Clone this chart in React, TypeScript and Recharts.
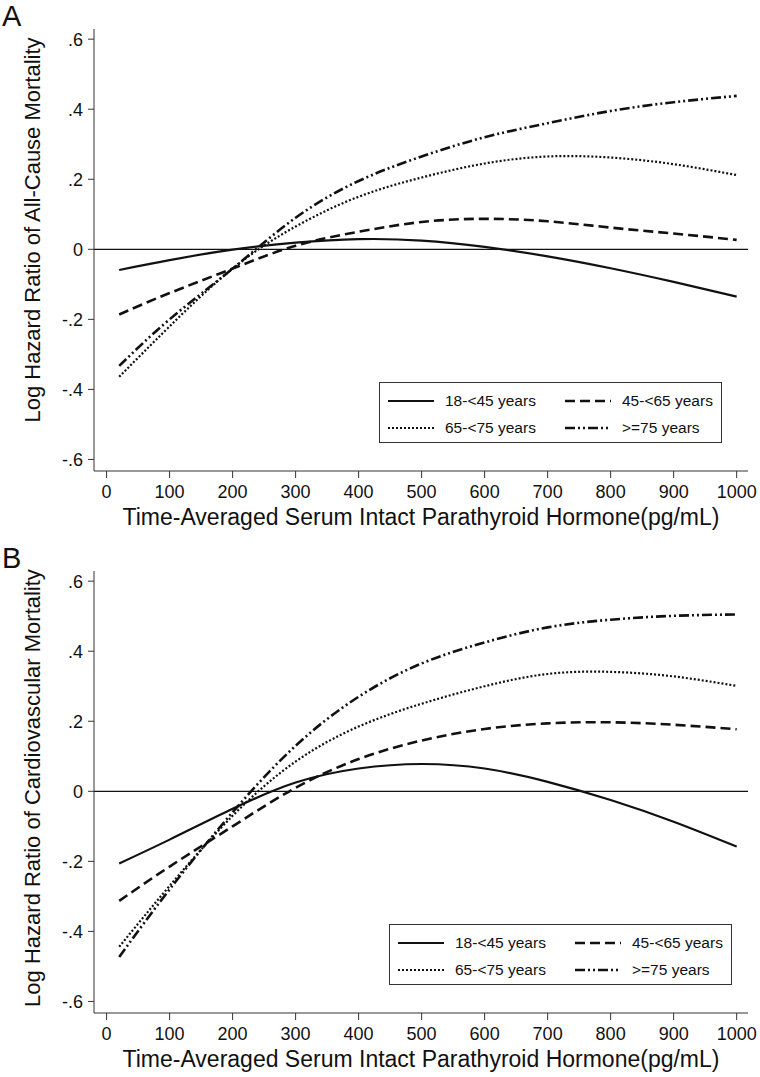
// Two stacked spline panels: log HR of mortality vs time-averaged iPTH, by age group.
// Stata-style look: boxed plot region, zero reference line, inset legend.

import { Legend, Line, LineChart, ReferenceLine, XAxis, YAxis } from "recharts";

const PTH = [20, 100, 200, 300, 400, 500, 600, 700, 800, 900, 1000];

// Panel A — all-cause mortality
const A_AGE_18_45 = [-0.059, -0.031, -0.001, 0.019, 0.029, 0.025, 0.007, -0.02, -0.054, -0.093, -0.135];
const A_AGE_45_65 = [-0.186, -0.125, -0.055, 0.01, 0.05, 0.078, 0.087, 0.08, 0.062, 0.045, 0.027];
const A_AGE_65_75 = [-0.364, -0.22, -0.055, 0.065, 0.15, 0.205, 0.245, 0.265, 0.262, 0.243, 0.212];
const A_AGE_75 = [-0.333, -0.2, -0.055, 0.09, 0.195, 0.265, 0.32, 0.36, 0.395, 0.42, 0.438];

// Panel B — cardiovascular mortality
const B_AGE_18_45 = [-0.206, -0.138, -0.05, 0.025, 0.065, 0.078, 0.065, 0.027, -0.025, -0.087, -0.158];
const B_AGE_45_65 = [-0.313, -0.215, -0.1, 0.01, 0.092, 0.145, 0.178, 0.194, 0.197, 0.19, 0.177];
const B_AGE_65_75 = [-0.444, -0.27, -0.07, 0.085, 0.185, 0.25, 0.3, 0.335, 0.341, 0.328, 0.301];
const B_AGE_75 = [-0.473, -0.28, -0.06, 0.13, 0.27, 0.365, 0.425, 0.468, 0.49, 0.501, 0.505];

const SERIES_NAMES = ["18-<45 years", "45-<65 years", "65-<75 years", ">=75 years"];
const X_TICKS = [0, 100, 200, 300, 400, 500, 600, 700, 800, 900, 1000];
const Y_TICKS = [-0.6, -0.4, -0.2, 0, 0.2, 0.4, 0.6];
const Y_TICK_LABELS = ["-.6", "-.4", "-.2", "0", ".2", ".4", ".6"];
const X_TITLE = "Time-Averaged Serum Intact Parathyroid Hormone(pg/mL)";

const FONT = "'Liberation Sans', Arial, Helvetica, sans-serif";
const INK = "#111";
const FRAME = "#333";
const X_DOMAIN: [number, number] = [-20, 1018];
const Y_DOMAIN: [number, number] = [-0.633, 0.629];

// line styles per age group: solid, dashed, dotted, dash-dot-dot
const STYLES = [
  { dash: undefined as string | undefined, width: 2.2 },
  { dash: "10 5", width: 2.6 },
  { dash: "2 2", width: 2.2 },
  { dash: "10 3 2 3 2 3", width: 2.6 },
];

const KEYS = ["g1", "g2", "g3", "g4"];

function buildRows(series: number[][]) {
  return PTH.map((x, i) => {
    const row: Record<string, number> = { pth: x };
    series.forEach((s, k) => {
      row[KEYS[k]] = s[i];
    });
    return row;
  });
}

function fmtY(v: number): string {
  const i = Y_TICKS.findIndex((t) => Math.abs(t - v) < 1e-6);
  return i >= 0 ? Y_TICK_LABELS[i] : String(v);
}

function Sample({ k }: { k: number }) {
  return (
    <svg width={46} height={8} style={{ display: "block" }}>
      <line
        x1={0}
        y1={4}
        x2={46}
        y2={4}
        stroke={INK}
        strokeWidth={STYLES[k].width}
        strokeDasharray={STYLES[k].dash}
      />
    </svg>
  );
}

function BoxLegend() {
  const cell = (k: number) => (
    <div style={{ display: "flex", alignItems: "center", height: 26 }}>
      <Sample k={k} />
      <span style={{ marginLeft: 11 }}>{SERIES_NAMES[k]}</span>
    </div>
  );
  return (
    <div
      style={{
        border: `1px solid ${FRAME}`,
        background: "#fff",
        boxSizing: "border-box",
        width: 343,
        height: 61,
        padding: "5px 0 0 8px",
        fontFamily: FONT,
        fontSize: 15.5,
        color: INK,
        display: "grid",
        gridTemplateColumns: "177px 160px",
      }}
    >
      {cell(0)}
      {cell(1)}
      {cell(2)}
      {cell(3)}
    </div>
  );
}

function Panel({
  letter,
  yTitle,
  yTitleMid,
  series,
  legendLeft,
  top,
}: {
  letter: string;
  yTitle: string;
  yTitleMid: number;
  series: number[][];
  legendLeft: number;
  top: number;
}) {
  const rows = buildRows(series);
  const tick = { fontSize: 18, fontFamily: FONT, fill: INK };
  return (
    <div style={{ position: "absolute", left: 0, top, width: 760, height: 542 }}>
      <LineChart
        width={760}
        height={542}
        data={rows}
        margin={{ top: 29, right: 12, bottom: 0, left: 0 }}
      >
        <XAxis
          dataKey="pth"
          type="number"
          domain={X_DOMAIN}
          ticks={X_TICKS}
          interval={0}
          height={71}
          tick={tick}
          tickSize={7}
          tickMargin={7}
          axisLine={{ stroke: FRAME }}
          tickLine={{ stroke: FRAME }}
        />
        <XAxis
          xAxisId="top"
          orientation="top"
          dataKey="pth"
          type="number"
          domain={X_DOMAIN}
          height={0}
          tick={false}
          tickLine={false}
          axisLine={{ stroke: FRAME }}
        />
        <YAxis
          yAxisId="left"
          type="number"
          domain={Y_DOMAIN}
          ticks={Y_TICKS}
          interval={0}
          width={94}
          tick={tick}
          tickFormatter={fmtY}
          tickSize={6}
          tickMargin={5}
          axisLine={{ stroke: FRAME }}
          tickLine={{ stroke: FRAME }}
        />
        <YAxis
          yAxisId="right"
          orientation="right"
          type="number"
          domain={Y_DOMAIN}
          width={0}
          tick={false}
          tickLine={false}
          axisLine={{ stroke: FRAME }}
        />
        <ReferenceLine yAxisId="left" y={0} stroke={INK} strokeWidth={1.3} />
        {KEYS.map((key, k) => (
          <Line
            key={key}
            yAxisId="left"
            type="natural"
            dataKey={key}
            name={SERIES_NAMES[k]}
            stroke={INK}
            strokeWidth={STYLES[k].width}
            strokeDasharray={STYLES[k].dash}
            dot={false}
            activeDot={false}
            isAnimationActive={false}
          />
        ))}
        <Legend
          layout="vertical"
          align="center"
          verticalAlign="middle"
          content={() => <BoxLegend />}
          wrapperStyle={{ left: legendLeft, top: 382, width: 343, height: 61 }}
        />
      </LineChart>
      <svg
        width={760}
        height={542}
        style={{ position: "absolute", left: 0, top: 0, pointerEvents: "none" }}
        fontFamily={FONT}
        fill={INK}
      >
        <text x={2} y={26} fontSize={29}>
          {letter}
        </text>
        <text
          x={32}
          y={yTitleMid}
          fontSize={22}
          textAnchor="middle"
          dominantBaseline="central"
          transform={`rotate(-90 32 ${yTitleMid})`}
        >
          {yTitle}
        </text>
        <text x={421} y={517} fontSize={23} textAnchor="middle" dominantBaseline="central">
          {X_TITLE}
        </text>
      </svg>
    </div>
  );
}

export default function App() {
  return (
    <div
      style={{
        position: "absolute",
        left: 0,
        top: 0,
        width: 760,
        height: 1077,
        background: "#fff",
      }}
    >
      <Panel
        letter="A"
        yTitle="Log Hazard Ratio of All-Cause Mortality"
        yTitleMid={230}
        series={[A_AGE_18_45, A_AGE_45_65, A_AGE_65_75, A_AGE_75]}
        legendLeft={379}
        top={0}
      />
      <Panel
        letter="B"
        yTitle="Log Hazard Ratio of Cardiovascular Mortality"
        yTitleMid={246}
        series={[B_AGE_18_45, B_AGE_45_65, B_AGE_65_75, B_AGE_75]}
        legendLeft={389}
        top={542}
      />
    </div>
  );
}
